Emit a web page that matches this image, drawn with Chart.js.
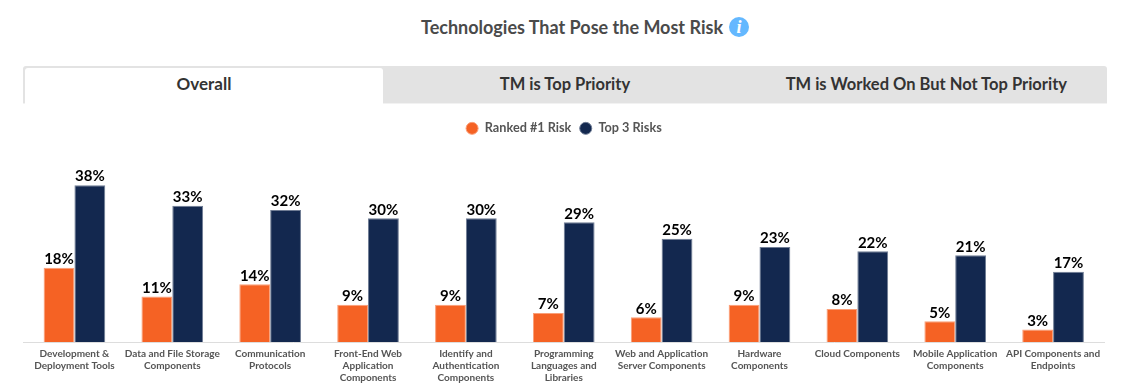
<!DOCTYPE html>
<html>
<head>
<meta charset="utf-8">
<title>Technologies That Pose the Most Risk</title>
<script src="https://cdn.jsdelivr.net/npm/chart.js@4"></script>
<style>
  html, body { margin: 0; padding: 0; background: #fff; overflow: hidden; }
  body { width: 1135px; height: 384px; position: relative; font-family: Lato, sans-serif; }
  .title { position: absolute; left: 0; top: 15px; width: 1135px; height: 24px; line-height: 24px; font-size: 18px; font-weight: bold; color: #4a4a4a; }
  .title span { position: absolute; left: 421px; white-space: nowrap; }
  .title i { position: absolute; left: 729px; top: 2px; width: 20px; height: 20px; border-radius: 50%; background: #64b8ff; color: #fff; font: italic bold 18px/20px "Liberation Serif", serif; text-align: center; }
  .tabs { position: absolute; left: 23px; top: 66px; width: 1084px; height: 37px; background: #e3e3e3; border-radius: 3px 3px 0 0; display: flex; border-bottom: 1px solid #f2f2f2; }
  .tab { width: 361.33px; height: 37px; line-height: 36px; text-align: center; font-size: 16.5px; font-weight: bold; color: #333; }
  .tab.active { position: absolute; left: 2px; top: 2px; width: 358px; height: 36px; line-height: 32px; font-size: 17px; background: #fff; border-radius: 3px 3px 0 0; }
  .tab.second { margin-left: 361.33px; }
  #wrap { position: absolute; left: 23px; top: 114px; width: 1082px; height: 270px; }
</style>
</head>
<body>
<div class="title"><span>Technologies That Pose the Most Risk</span><i>i</i></div>
<div class="tabs">
  <div class="tab active">Overall</div>
  <div class="tab second">TM is Top Priority</div>
  <div class="tab">TM is Worked On But Not Top Priority</div>
</div>
<div id="wrap"><canvas id="chart"></canvas></div>
<script>
const categories = [
  ["Development &", "Deployment Tools"],
  ["Data and File Storage", "Components"],
  ["Communication", "Protocols"],
  ["Front-End Web", "Application", "Components"],
  ["Identify and", "Authentication", "Components"],
  ["Programming", "Languages and", "Libraries"],
  ["Web and Application", "Server Components"],
  ["Hardware", "Components"],
  ["Cloud Components"],
  ["Mobile Application", "Components"],
  ["API Components and", "Endpoints"],
];
const rankedFirst = [18, 11, 14, 9, 9, 7, 6, 9, 8, 5, 3];
const topThree = [38, 33, 32, 30, 30, 29, 25, 23, 22, 21, 17];

// writes the % above each bar, and runs the base line a bit past the plot
const barLabels = {
  id: "barLabels",
  beforeDatasetsDraw(chart) {
    const c = chart.ctx;
    const y = Math.round(chart.scales.x.top) + 0.5;
    c.save();
    c.strokeStyle = "#ddd";
    c.beginPath();
    c.moveTo(0, y);
    c.lineTo(chart.width, y);
    c.stroke();
    c.restore();
  },
  afterDatasetsDraw(chart) {
    const c = chart.ctx;
    c.save();
    c.font = "bold 15px Lato";
    c.fillStyle = "#000";
    c.textAlign = "center";
    c.textBaseline = "bottom";
    chart.data.datasets.forEach((ds, i) => {
      chart.getDatasetMeta(i).data.forEach((bar, j) => {
        c.fillText(ds.data[j] + "%", bar.x, bar.y - 1);
      });
    });
    c.restore();
  },
};

new Chart(document.getElementById("chart").getContext("2d"), {
  type: "bar",
  data: {
    labels: categories,
    datasets: [
      { label: "Ranked #1 Risk", data: rankedFirst, backgroundColor: "#f56224", borderColor: "#fa9f78", borderWidth: 1 },
      { label: "Top 3 Risks", data: topThree, backgroundColor: "#13284f", borderColor: "#6f7c94", borderWidth: 1 },
    ],
  },
  options: {
    responsive: true,
    maintainAspectRatio: false,
    animation: false,
    categoryPercentage: 0.63,
    barPercentage: 1,
    layout: { padding: { left: 2.5, right: 3 } },
    plugins: {
      tooltip: { enabled: false },
      legend: {
        position: "top",
        align: "center",
        labels: {
          usePointStyle: true,
          pointStyle: "circle",
          boxWidth: 17,
          boxHeight: 8.5,
          padding: 8,
          color: "#555",
          font: { family: "Lato", size: 12.7, weight: "bold" },
        },
      },
    },
    scales: {
      x: {
        grid: { display: false },
        border: { display: false },
        afterFit(scale) { scale.height = 42; },
        ticks: {
          autoSkip: false,
          maxRotation: 0,
          padding: -2,
          color: "#555",
          font: { family: "Lato", size: 10, weight: "bold", lineHeight: 1.2 },
        },
      },
      y: { display: false, min: 0, max: 47.8 },
    },
  },
  plugins: [barLabels],
});
</script>
</body>
</html>
